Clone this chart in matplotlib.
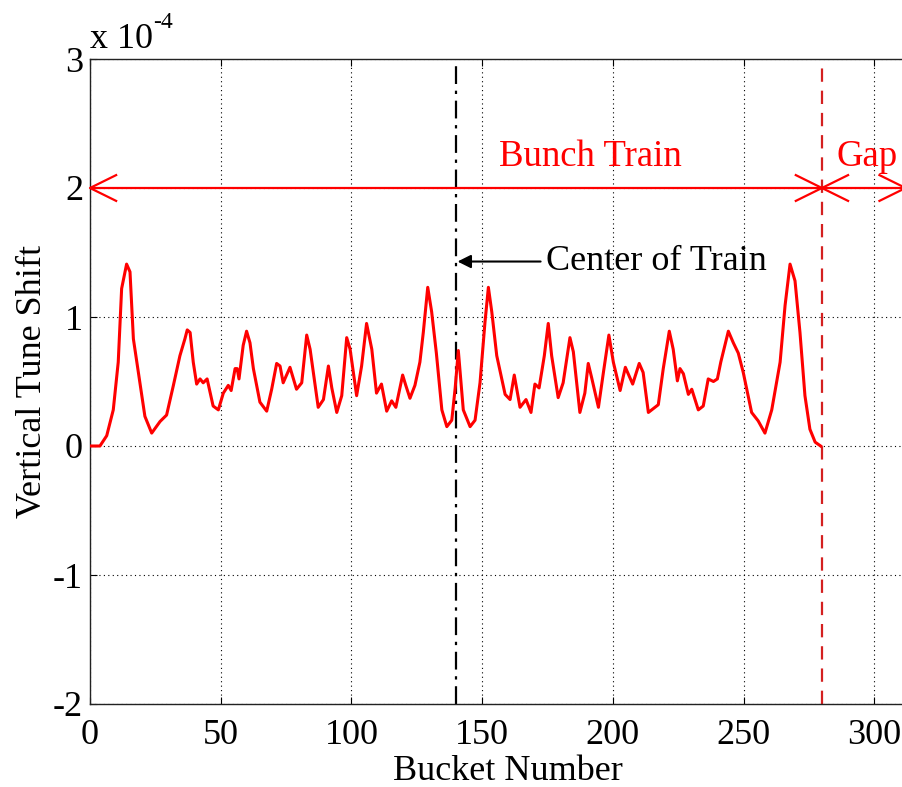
import numpy as np
import matplotlib
matplotlib.use("Agg")
import matplotlib.pyplot as plt

plt.rcParams['font.family'] = ['Liberation Serif', 'DejaVu Serif']
plt.rcParams['axes.unicode_minus'] = False

# tune shift along the bunch train, in units of 1e-4
bucket = [0, 3.8, 6.4, 8.9, 10.8, 12.1, 14.0, 15.3, 16.6, 18.5, 21, 23.6, 26.8, 29.3,
          31.9, 34.4, 36.3, 37.2, 38.3, 39.5, 40.8, 42.1, 43.3, 44.8, 47.1, 49.1, 51,
          52.9, 54, 55.5, 56.3, 57, 58.6, 59.9, 61.2, 62.5, 65, 67.6, 69.5, 71.4, 72.7,
          73.9, 76.5, 79, 81, 82.9, 84.2, 87.3, 89.3, 91.2, 92.5, 94.4, 96.3, 98.2, 99.5,
          102, 103.9, 105.8, 107.8, 109.6, 111.5, 113.5, 115.4, 117, 119.6, 120.8, 122.4,
          124.3, 126.2, 127.5, 129.2, 130.7, 132.5, 134.6, 136.5, 138.4, 139.7, 140.9,
          142.8, 145.4, 147.3, 149.2, 151.1, 152.4, 153.7, 155.6, 157.5, 158.8, 160.7,
          162.3, 164.5, 166.8, 168.7, 170.2, 171.8, 173.8, 175.3, 176.6, 179.1, 181,
          183.6, 184.9, 187.4, 189.3, 190.6, 191.9, 194.5, 196.4, 198.5, 200.2, 202.8,
          204.8, 207.6, 210.1, 211.6, 213.6, 217.4, 219.3, 221.6, 223.1, 224.7, 225.7,
          227, 228.9, 230.2, 232.7, 234.6, 236.5, 238.5, 240, 241.3, 244.2, 246.1, 248,
          249.9, 253.1, 255.6, 258.2, 260.8, 264, 265.9, 267.8, 269.7, 271.6, 273.5,
          275.4, 277.4, 279.5]
shift = [0, 0, 0.08, 0.28, 0.65, 1.22, 1.41, 1.35, 0.83, 0.57, 0.23, 0.10, 0.19, 0.24,
         0.47, 0.70, 0.83, 0.90, 0.88, 0.65, 0.48, 0.52, 0.49, 0.52, 0.31, 0.28, 0.41,
         0.47, 0.43, 0.60, 0.60, 0.52, 0.78, 0.89, 0.80, 0.60, 0.34, 0.27, 0.44, 0.64, 0.62,
         0.49, 0.61, 0.44, 0.49, 0.86, 0.75, 0.30, 0.36, 0.62, 0.45, 0.26, 0.39, 0.84, 0.75,
         0.39, 0.62, 0.95, 0.75, 0.41, 0.48, 0.27, 0.35, 0.30, 0.55, 0.47, 0.37,
         0.47, 0.65, 0.88, 1.23, 1.04, 0.72, 0.28, 0.15, 0.20, 0.45, 0.74,
         0.28, 0.15, 0.20, 0.49, 0.96, 1.23, 1.04, 0.70, 0.52, 0.40, 0.36,
         0.55, 0.30, 0.36, 0.26, 0.48, 0.45, 0.70, 0.95, 0.70, 0.375, 0.49,
         0.84, 0.73, 0.26, 0.41, 0.64, 0.53, 0.30, 0.57, 0.86, 0.65, 0.43,
         0.61, 0.48, 0.64, 0.57, 0.26, 0.32, 0.60, 0.89, 0.75, 0.505, 0.60,
         0.56, 0.40, 0.44, 0.28, 0.31, 0.52, 0.50, 0.52, 0.65, 0.89, 0.80, 0.72,
         0.57, 0.26, 0.195, 0.10, 0.28, 0.65, 1.09, 1.41, 1.28, 0.88, 0.39,
         0.13, 0.03, 0.0]

train_center = 140
train_end = 280
gap_end = 312
xticks = [0, 50, 100, 150, 200, 250, 300]
yticks = [-2, -1, 0, 1, 2, 3]

W, H = 902, 787
fig = plt.figure(figsize=(W / 100, H / 100), dpi=100)
# axes run past the right edge of the picture (cropped like the original)
ax = fig.add_axes([90 / W, 83 / H, 836.5 / W, 645 / H])

ax.plot(bucket, shift, color='red', lw=2.2, zorder=3)

ax.axvline(train_center, color='black', lw=1.6, ls=(0, (8, 3, 1.5, 3)), zorder=2)
ax.axvline(train_end, color='#d42020', lw=1.6, ls=(0, (6, 4)), zorder=2)

# double arrows for the bunch train and the gap
ya = 2.0
ax.plot([0, gap_end], [ya, ya], color='red', lw=1.6, zorder=3)
for tip, d in [(0, 1), (train_end, -1), (train_end, 1), (gap_end, -1)]:
    ax.plot([tip + d * 10, tip, tip + d * 10], [ya + 0.1, ya, ya - 0.1],
            color='red', lw=1.6, zorder=3, clip_on=False)

ax.text(191.5, 2.24, 'Bunch Train', color='red', fontsize=26.5, ha='center', va='center')
ax.text(285.5, 2.24, 'Gap', color='red', fontsize=26.5, ha='left', va='center')

ax.annotate('Center of Train', xy=(140.6, 1.43), xytext=(174.5, 1.43),
            fontsize=26, va='center', ha='left',
            arrowprops=dict(arrowstyle='-|>', color='black', lw=1.5,
                            mutation_scale=20, shrinkA=2, shrinkB=0))

ax.set_xlim(0, 320)
ax.set_ylim(-2, 3)
ax.set_xticks(xticks)
ax.set_yticks(yticks)
ax.tick_params(direction='in', top=True, right=False, labelsize=26, length=5)
ax.tick_params(axis='x', pad=11)
ax.tick_params(axis='y', pad=5)
ax.grid(True, color='black', ls=(0, (1, 3)), lw=0.8)
for s in ax.spines.values():
    s.set_color('#222222')
    s.set_linewidth(1.0)
ax.spines['right'].set_visible(False)

ax.set_xlabel('Bucket Number', fontsize=26, labelpad=2)
ax.set_ylabel('Vertical Tune Shift', fontsize=26, labelpad=3)

fig.text(90 / W, 1 - 48 / H, 'x 10', fontsize=26, ha='left', va='baseline')
fig.text(153 / W, 1 - 28 / H, '-4', fontsize=17, ha='left', va='baseline')

fig.savefig('out.png', dpi=100)
